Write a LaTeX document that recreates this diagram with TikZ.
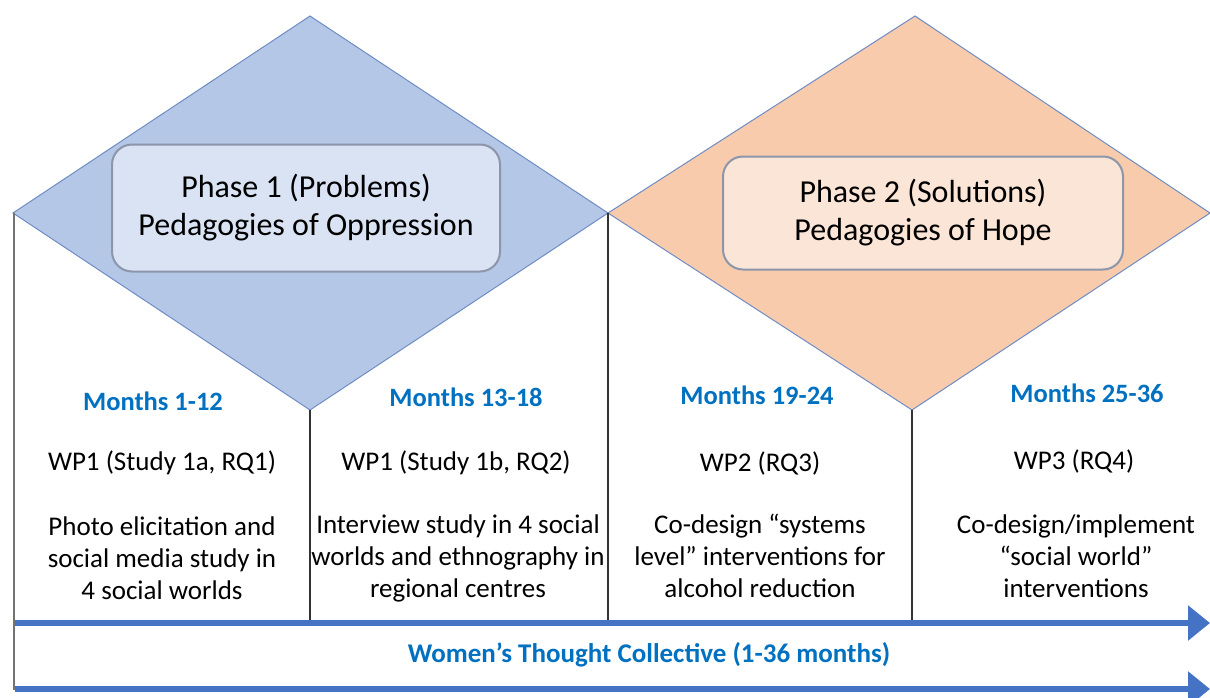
\documentclass[tikz,border=0pt]{standalone}
\usepackage{fontspec}
\setmainfont{Carlito}
\usetikzlibrary{arrows.meta}

\definecolor{phaseblue}{HTML}{B4C7E7}
\definecolor{boxblue}{HTML}{DAE3F3}
\definecolor{phaseorange}{HTML}{F8CBAD}
\definecolor{boxorange}{HTML}{FBE5D6}
\definecolor{edgeblue}{HTML}{6F8CC4}
\definecolor{boxedge}{HTML}{8C96AA}
\definecolor{monthblue}{HTML}{0070C0}
\definecolor{barblue}{HTML}{4472C4}

\tikzset{
  phasebox/.style={draw=boxedge, line width=2pt, rounded corners=20pt, align=center,
    font=\fontsize{32}{38}\selectfont},
  monthlbl/.style={text=monthblue, font=\fontsize{26.5}{30}\selectfont\bfseries},
  wplbl/.style={font=\fontsize{27}{32}\selectfont},
  bodytxt/.style={align=center, font=\fontsize{27}{32}\selectfont},
  timebar/.style={barblue, line width=6pt, -{Triangle[length=22pt,width=34pt]}},
  divider/.style={line width=1.2pt, black!80}
}

\begin{document}
\begin{tikzpicture}[x=1pt, y=-1pt]
  \useasboundingbox (0,0) rectangle (1210,697);

  % the two phases
  \draw[fill=phaseblue, draw=edgeblue, line width=1pt]
    (13,213) -- (310,16) -- (608,213) -- (310,410) -- cycle;
  \draw[fill=phaseorange, draw=edgeblue, line width=1pt]
    (608,213) -- (915,16) -- (1210,213) -- (912,410) -- cycle;

  \node[phasebox, fill=boxblue, minimum width=388pt, minimum height=127pt]
    (phaseA) at (306,208) {Phase 1 (Problems)\\Pedagogies of Oppression};
  \node[phasebox, fill=boxorange, minimum width=400pt, minimum height=113pt]
    (phaseB) at (923,213) {Phase 2 (Solutions)\\Pedagogies of Hope};

  % column borders
  \coordinate (topL) at (14,213);
  \coordinate (botL) at (14,690);
  \draw[line width=1.5pt, black!55] (topL) -- (botL);
  \draw[divider] (310,410) -- (310,620);
  \draw[divider] (608,213) -- (608,620);
  \draw[divider] (912,410) -- (912,620);

  % months
  \node[monthlbl] (m1) at (153,401) {Months 1-12};
  \node[monthlbl] (m2) at (466,397) {Months 13-18};
  \node[monthlbl] (m3) at (757,395) {Months 19-24};
  \node[monthlbl] (m4) at (1087,393) {Months 25-36};

  % work packages
  \node[wplbl] (wp1) at (162,463) {WP1 (Study 1a, RQ1)};
  \node[wplbl] (wp2) at (456,463) {WP1 (Study 1b, RQ2)};
  \node[wplbl] (wp3) at (760,463) {WP2 (RQ3)};
  \node[wplbl] (wp4) at (1074,461) {WP3 (RQ4)};

  \node[bodytxt] (s1) at (162,558) {Photo elicitation and\\social media study in\\4 social worlds};
  \node[bodytxt] (s2) at (458,558) {Interview study in 4 social\\worlds and ethnography in\\regional centres};
  \node[bodytxt] (s3) at (760,556) {Co-design “systems\\level” interventions for\\alcohol reduction};
  \node[bodytxt] (s4) at (1076,556) {Co-design/implement\\“social world”\\interventions};

  % time line
  \coordinate (a1) at (15,623);
  \coordinate (a2) at (1210,623);
  \coordinate (b1) at (15,689);
  \coordinate (b2) at (1210,689);
  \draw[timebar] (a1) -- (a2);
  \draw[timebar] (b1) -- (b2);
  \node[monthlbl, font=\fontsize{27}{30}\selectfont\bfseries] (wtc) at (649,655)
    {Women’s Thought Collective (1-36 months)};
\end{tikzpicture}
\end{document}
